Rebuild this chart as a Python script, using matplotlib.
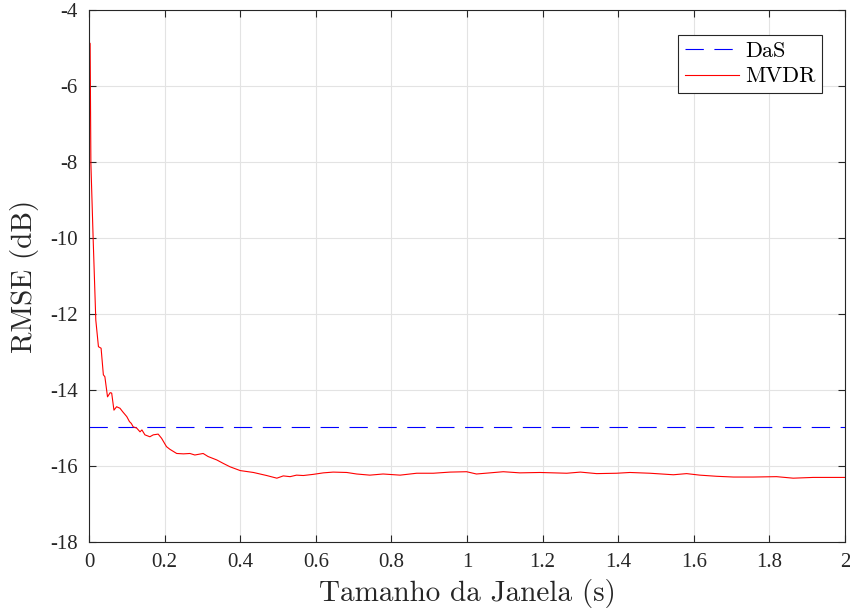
import numpy as np
import matplotlib
matplotlib.use("Agg")
import matplotlib.pyplot as plt

plt.rcParams['font.family'] = ['Liberation Serif', 'DejaVu Serif']
plt.rcParams['axes.unicode_minus'] = False

# valores
janela = [0.0, 0.003, 0.005, 0.011, 0.018, 0.025, 0.032, 0.038, 0.042, 0.049, 0.056, 0.06,
          0.066, 0.073, 0.082, 0.089, 0.1, 0.107, 0.112, 0.117, 0.126, 0.135, 0.14, 0.148,
          0.161, 0.17, 0.183, 0.192, 0.205, 0.214, 0.232, 0.25, 0.267, 0.28, 0.302, 0.315,
          0.338, 0.355, 0.373, 0.4, 0.435, 0.47, 0.497, 0.514, 0.532, 0.549, 0.567, 0.593,
          0.62, 0.646, 0.682, 0.708, 0.743, 0.778, 0.823, 0.867, 0.911, 0.955, 0.999, 1.025,
          1.061, 1.096, 1.14, 1.193, 1.264, 1.3, 1.343, 1.396, 1.431, 1.484, 1.546, 1.581,
          1.616, 1.66, 1.705, 1.757, 1.819, 1.863, 1.916, 1.969, 2.0]
rmse_mvdr = [-4.85, -4.88, -8.03, -10.02, -12.16, -12.86, -12.9, -13.6, -13.65, -14.18, -14.07, -14.08,
             -14.53, -14.44, -14.48, -14.57, -14.7, -14.83, -14.88, -14.97, -15.0, -15.1, -15.05, -15.18,
             -15.23, -15.18, -15.16, -15.27, -15.49, -15.56, -15.67, -15.68, -15.67, -15.71, -15.67, -15.75,
             -15.84, -15.93, -16.02, -16.12, -16.17, -16.25, -16.32, -16.26, -16.28, -16.24, -16.25, -16.22,
             -16.18, -16.16, -16.17, -16.21, -16.24, -16.21, -16.24, -16.19, -16.19, -16.16, -16.15, -16.21,
             -16.18, -16.15, -16.18, -16.17, -16.19, -16.16, -16.2, -16.19, -16.17, -16.19, -16.23, -16.2,
             -16.24, -16.27, -16.29, -16.29, -16.28, -16.32, -16.3, -16.3, -16.3]
rmse_das = -14.97

fig = plt.figure(figsize=(8.5, 6.11), dpi=100)
ax = fig.add_axes([0.1047, 0.1129, 0.8894, 0.8707])

ax.plot([0, 2], [rmse_das, rmse_das], color='#0000ff', lw=0.8, dashes=(16.5, 9.5), label='DaS')
ax.plot(janela, rmse_mvdr, color='#ff0000', lw=0.8, label='MVDR')

ax.set_xlim(0, 2)
ax.set_ylim(-18, -4)
ax.set_xticks(np.arange(0, 2.01, 0.2))
ax.set_xticklabels(['0', '0.2', '0.4', '0.6', '0.8', '1', '1.2', '1.4', '1.6', '1.8', '2'])
ax.set_yticks(np.arange(-18, -3, 2))
ax.grid(True, color='#e3e3e3', lw=0.8)
ax.set_axisbelow(True)
for s in ax.spines.values():
    s.set_color('#262626')
    s.set_linewidth(0.8)
ax.tick_params(direction='in', top=True, right=True, length=5, width=0.8,
               color='#262626', labelcolor='#262626', labelsize=15)
ax.tick_params(axis='x', pad=8)
ax.tick_params(axis='y', pad=8)

ax.set_xlabel('Tamanho da Janela (s)', fontsize=21, fontfamily='cmr10', color='#262626', labelpad=5)
ax.set_ylabel('RMSE (dB)', fontsize=21, fontfamily='cmr10', color='#262626', labelpad=8)

leg = ax.legend(loc='upper right', bbox_to_anchor=(0.9696, 0.953),
                prop={'family': 'cmr10', 'size': 16},
                fancybox=False, framealpha=1, edgecolor='#262626', handlelength=2.45,
                handletextpad=0.25, borderpad=0.3, labelspacing=0.25, borderaxespad=0)
leg.get_frame().set_linewidth(0.8)

fig.savefig('out.png', dpi=100)
